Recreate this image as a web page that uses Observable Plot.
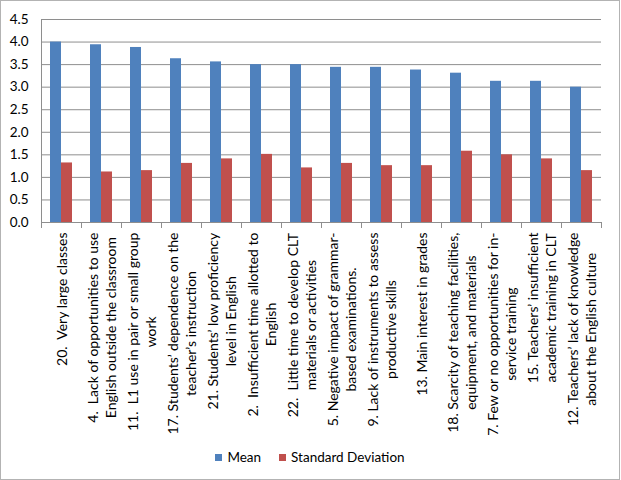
<!DOCTYPE html>
<html><head><meta charset="utf-8">
<script src="https://cdn.jsdelivr.net/npm/d3@7"></script>
<script src="https://cdn.jsdelivr.net/npm/@observablehq/plot@0.6"></script>
<style>
body{margin:0;background:#fff;font-family:Lato,sans-serif;}
#frame{position:absolute;left:0;top:0;width:618px;height:478px;border:1px solid #b3b3b3;pointer-events:none;}
#chart{position:absolute;left:0;top:0;}
#legend{position:absolute;left:0;width:620px;top:449px;display:flex;justify-content:center;align-items:center;font-size:13.5px;color:#000;}
#legend .item{display:flex;align-items:center;margin:0 9px;}
#legend .sw{display:inline-block;width:7px;height:7px;margin-right:5px;}
</style></head><body>
<div id="chart"></div>
<div id="legend"></div>
<div id="frame"></div>
<script>
const categories = [
  "20.  Very large classes",
  "4.  Lack of opportunities to use\nEnglish outside the classroom",
  "11.  L1 use in pair or small group\nwork",
  "17. Students’ dependence on the\nteacher’s instruction",
  "21. Students’ low proficiency\nlevel in English",
  "2.  Insufficient time allotted to\nEnglish",
  "22.  Little time to develop CLT\nmaterials or activities",
  "5. Negative impact of grammar-\nbased examinations.",
  "9. Lack of instruments to assess\nproductive skills",
  "13. Main interest in grades",
  "18. Scarcity of teaching facilities,\nequipment, and materials",
  "7. Few or no opportunities for in-\nservice training",
  "15. Teachers’ insufficient\nacademic training in CLT",
  "12. Teachers’ lack of knowledge\nabout the English culture"
];
const meanValues = [4.00, 3.94, 3.88, 3.63, 3.56, 3.50, 3.50, 3.44, 3.44, 3.38, 3.31, 3.13, 3.13, 3.00];
const sdValues   = [1.32, 1.12, 1.15, 1.31, 1.41, 1.51, 1.21, 1.31, 1.26, 1.26, 1.58, 1.50, 1.41, 1.15];
const seriesNames = ["Mean", "Standard Deviation"];
const seriesColors = ["#4F81BD", "#C0504D"];
const yTicks = [0, 0.5, 1.0, 1.5, 2.0, 2.5, 3.0, 3.5, 4.0, 4.5];

const rows = categories.flatMap((c, i) => [
  {cat: c, series: seriesNames[0], value: meanValues[i]},
  {cat: c, series: seriesNames[1], value: sdValues[i]}
]);

const gridColor = "#8e8e8e";

const plot = Plot.plot({
  width: 621,
  height: 450,
  marginTop: 19,
  marginLeft: 39,
  marginRight: 18,
  marginBottom: 228,
  style: {fontFamily: "Lato, sans-serif", fontSize: "13px", color: "#000", background: "transparent"},
  fx: {domain: categories, padding: 0, axis: null, label: null},
  x: {domain: seriesNames, paddingInner: 0, paddingOuter: 0.77, axis: null},
  y: {domain: [0, 4.5], axis: null},
  color: {domain: seriesNames, range: seriesColors},
  marks: [
    Plot.gridY(yTicks, {stroke: gridColor, strokeOpacity: 1}),
    Plot.axisY(yTicks, {tickSize: 0, tickPadding: 13, tickFormat: d => d.toFixed(1), fontSize: 13.5, label: null}),
    Plot.barY(rows, {fx: "cat", x: "series", y: "value", fill: "series"}),
    Plot.text(categories, {fx: d => d, text: d => d, frameAnchor: "bottom", rotate: -90,
      textAnchor: "middle", lineAnchor: "middle", lineHeight: 1.25, fontSize: 14, fill: "#000"})
  ]
});
document.getElementById("chart").appendChild(plot);

// Position labels: top end of the longest line just below the axis
const svg = d3.select(plot);
svg.selectAll('g[aria-label="text"] text').each(function() {
  this.setAttribute("xml:space", "preserve");
  this.style.whiteSpace = "pre";
  const bb = this.getBBox();
  const t = this.getAttribute("transform") || "";
  this.setAttribute("transform", `translate(0,${bb.width / 2 + 10}) ` + t);
});

// Category boundary ticks and left axis line
const fx = plot.scale("fx");
const y = plot.scale("y");
const y0 = y.apply(0), y1 = y.apply(4.5);
const bounds = categories.map(c => fx.apply(c)).concat([fx.apply(categories[categories.length - 1]) + fx.bandwidth]);
const deco = svg.append("g").attr("stroke", gridColor).attr("shape-rendering", "crispEdges");
bounds.forEach(bx => deco.append("line").attr("x1", bx).attr("x2", bx).attr("y1", y0).attr("y2", y0 + 6));
deco.append("line").attr("x1", bounds[0]).attr("x2", bounds[0]).attr("y1", y1).attr("y2", y0);

// Legend
const legend = d3.select("#legend");
seriesNames.forEach((s, i) => {
  const it = legend.append("div").attr("class", "item");
  it.append("span").attr("class", "sw").style("background", seriesColors[i]);
  it.append("span").text(s);
});
</script>
</body></html>
